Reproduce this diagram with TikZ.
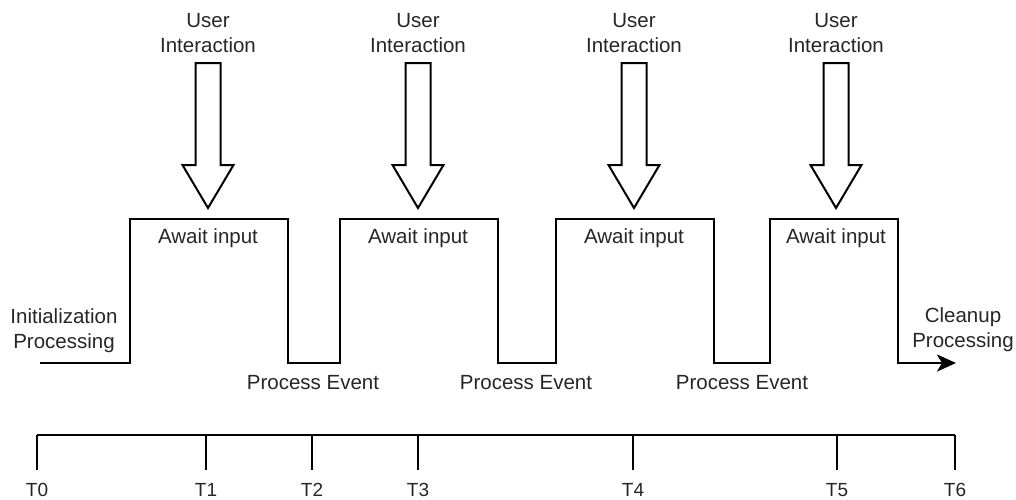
\documentclass[tikz,border=0pt]{standalone}
\usepackage{fontspec}
\setmainfont{Liberation Sans}
\usetikzlibrary{arrows.meta}
\begin{document}
\begin{tikzpicture}[x=1pt,y=-1pt,
  line/.style={line width=2.6pt,line join=miter},
  hollow/.style={draw,line width=2pt,fill=white,line join=miter},
  lbl/.style={font=\fontsize{20.5}{25}\selectfont,text=black!85,align=center,inner sep=0pt},
  hollowdown/.pic={\draw[hollow] (-12.5,0) -- (-12.5,102) -- (-25.5,102) -- (0,145)
        -- (25.5,102) -- (12.5,102) -- (12.5,0) -- cycle;}
]
\useasboundingbox (0,0) rectangle (1016,499);

% user interaction arrows
\foreach \i/\x in {1/208,2/418,3/634,4/836}{
  \node[lbl] (ui\i) at (\x,33) {User\\Interaction};
  \pic at (\x,63) {hollowdown};
  \node[lbl] (aw\i) at (\x,238) {Await input};
}

% event-loop waveform
\coordinate (w0) at (40,363);
\draw[line,-{Stealth[length=19pt,width=17pt,inset=5pt]}]
  (w0) -- (130,363) -- (130,219) -- (288,219) -- (288,363) -- (340,363)
  -- (340,219) -- (498,219) -- (498,363) -- (556,363) -- (556,219)
  -- (714,219) -- (714,363) -- (770,363) -- (770,219) -- (898,219)
  -- (898,363) -- (956,363) coordinate (wend);

\node[lbl] (init) at (64,331) {Initialization\\Processing};
\node[lbl] (clean) at (963,330) {Cleanup\\Processing};
\foreach \i/\x in {1/313,2/526,3/742}
  \node[lbl] (pe\i) at (\x,383) {Process Event};

% time axis
\coordinate (a0) at (37,435);
\coordinate (a6) at (955,435);
\draw[line] (a0) -- (a6);
\foreach \i/\x in {0/37,1/206,2/312,3/418,4/633,5/837,6/955}{
  \coordinate (tk\i) at (\x,435);
  \draw[line] (tk\i) -- ++(0,35) coordinate (tb\i);
  \node[lbl,font=\fontsize{19}{22}\selectfont] (t\i) at (\x,490) {T\i};
}
\end{tikzpicture}
\end{document}
